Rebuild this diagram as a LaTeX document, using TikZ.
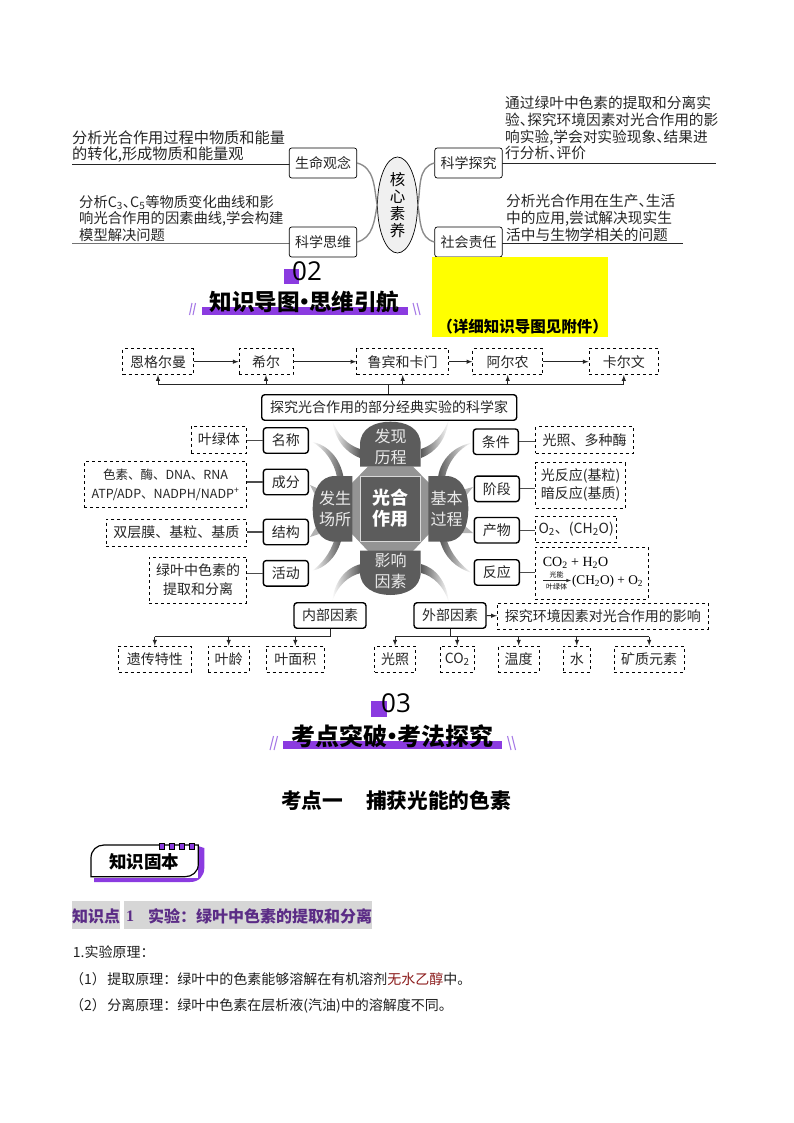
\documentclass[tikz,border=0pt]{standalone}
\usepackage{fontspec}
\setmainfont{Noto Sans CJK SC}
\newfontfamily\timesfont{Liberation Serif}
\newfontfamily\digitfont{Open Sans}
\usepackage{xcolor}
\usetikzlibrary{shapes}
\usetikzlibrary{arrows}
\definecolor{titlepurple}{HTML}{8B3BE0}
\definecolor{slashpurple}{HTML}{A77BE6}
\definecolor{darkpurple}{HTML}{5B2C86}
\definecolor{petalgray}{HTML}{5C5C5C}
\definecolor{stripgray}{HTML}{D6D6D6}
\definecolor{answerred}{HTML}{8B1A1A}
\definecolor{sheetyellow}{HTML}{FFFF00}
\newcommand{\dun}{、\hspace{-0.5em}}
\newcommand{\middot}{\hspace{-0.3em}·\hspace{-0.3em}}
\tikzset{
	fs/.style={font=\fontsize{#1}{18}\selectfont},
	keybox/.style={draw, rounded corners=3pt, line width=1.4pt, minimum height=25.5pt, inner sep=0pt, text=black!85, fs=14},
	dashbox/.style={draw, dashed, line width=0.8pt, minimum height=26pt, inner sep=0pt, text=black!85, fs=14},
	corebox/.style={draw, rounded corners=2.5pt, line width=0.7pt, minimum width=67.5pt, minimum height=30pt, inner sep=0pt, text=black!85, fs=14},
	note/.style={anchor=west, align=left, inner sep=0pt, text=black!85, font=\fontsize{14.7}{16.9}\selectfont},
	petaltext/.style={text=white!92!black, inner sep=0pt, fs=16},
	bodytext/.style={anchor=west, inner sep=0pt, text=black!88, fs=14},
	heading/.style={inner sep=0pt, font=\fontsize{#1}{25}\selectfont\bfseries},
	flow/.style={line width=1pt, black!85},
	flowarrow/.style={flow, -latex},
	tick/.style={line width=1.2pt, black!70},
	corelink/.style={line width=1.4pt, black!45},
	swooshL/.style={left color=white, right color=black!65},
	swooshR/.style={left color=black!65, right color=white},
	slash/.style={line width=1.1pt, slashpurple}
}
\begin{document}
\begin{tikzpicture}[x=1pt, y=-1pt]
	\useasboundingbox (0,0) rectangle (794,1123);

	% core literacy
	\draw[line width=0.7pt, black!85] (72,164) -- (290,164);
	\draw[line width=1.1pt, black!55] (72,243.7) -- (290,243.7);
	\draw[line width=0.7pt, black!85] (502,163) -- (716,163);
	\draw[line width=0.7pt, black!85] (502,243.5) -- (683,243.5);

	\node[note, font=\fontsize{15.2}{16.9}\selectfont] (lifetext) at (72,146.5) {分析光合作用过程中物质和能量\\的转化,形成物质和能量观};
	\node[note, font=\fontsize{14.3}{16.9}\selectfont] (thinktext) at (79,218.5) {分析C\textsubscript{3}\dun C\textsubscript{5}等物质变化曲线和影\\响光合作用的因素曲线,学会构建\\模型解决问题};
	\node[note] (probetext) at (505,128) {通过绿叶中色素的提取和分离实\\验\dun 探究环境因素对光合作用的影\\响实验,学会对实验现象\dun 结果进\\行分析\dun 评价};
	\node[note] (dutytext) at (506,217.5) {分析光合作用在生产\dun 生活\\中的应用,尝试解决现实生\\活中与生物学相关的问题};

	\node[corebox, fill=white] (life) at (323,163) {生命观念};
	\node[corebox, fill=white] (think) at (323,242) {科学思维};
	\node[corebox, fill=white] (probe) at (468.5,163) {科学探究};
	\node[corebox, fill=white] (duty) at (468.5,242) {社会责任};
	\node[draw, ellipse, fill=black!6, line width=0.7pt, minimum width=40pt, minimum height=96pt, inner sep=0pt, align=center, font=\fontsize{15.5}{16.8}\selectfont] (core) at (397.5,205) {核\\心\\素\\养};
	\draw[corelink] (life.east) to[out=-15, in=100] (core.west);
	\draw[corelink] (think.east) to[out=15, in=-100] (core.west);
	\draw[corelink] (probe.west) to[out=195, in=80] (core.east);
	\draw[corelink] (duty.west) to[out=165, in=-80] (core.east);

	% section 02
	\fill[titlepurple] (284,269) rectangle (299,284);
	\node[inner sep=0pt, font=\fontsize{26}{30}\selectfont\digitfont] (numtwo) at (307,271.5) {02};
	\fill[titlepurple] (201.5,307) rectangle (407.5,315);
	\node[heading=22.6] (guide) at (304.5,302) {知识导图\middot 思维引航};
	\draw[slash] (189.5,315) -- (192,303);
	\draw[slash] (193,315) -- (195.5,303);
	\draw[slash] (413,303) -- (416,315);
	\draw[slash] (417,303) -- (420,315);
	\fill[sheetyellow] (432,257) rectangle (608,337);
	\node[inner sep=0pt, font=\fontsize{15.5}{18}\selectfont\bfseries] (attach) at (522.5,327) {（详细知识导图见附件）};

	% swooshes behind the hub
	\shade[swooshL] (360,458) .. controls (345,452) and (335,440) .. (331.7,419) .. controls (338,436) and (348,445) .. (360,449) -- cycle;
	\shade[swooshL] (343.5,477) .. controls (340,458) and (328,445) .. (311.7,441.7) .. controls (325,449) and (334,462) .. (337,477) -- cycle;
	\shade[swooshL] (341,541) .. controls (336,558) and (325,568) .. (311.7,571) .. controls (322,564) and (330,553) .. (334,541) -- cycle;
	\shade[swooshL] (361,573) .. controls (348,576) and (337,586) .. (331.7,603) .. controls (334,582) and (345,568) .. (361,564) -- cycle;
	\shade[swooshR] (421,458) .. controls (436,452) and (446,440) .. (449,419) .. controls (443,436) and (433,445) .. (421,449) -- cycle;
	\shade[swooshR] (438,477) .. controls (441,458) and (455,446) .. (472,442.7) .. controls (458,449) and (448,462) .. (445,477) -- cycle;
	\shade[swooshR] (440,541) .. controls (445,558) and (456,568) .. (472,573) .. controls (460,565) and (451,553) .. (447,541) -- cycle;
	\shade[swooshR] (421,573) .. controls (433,576) and (444,586) .. (449,603) .. controls (447,582) and (436,568) .. (421,564) -- cycle;
	\fill[black!30] (310,485) -- (319,489) -- (316,497) -- cycle;
	\fill[black!30] (310,537) -- (316,527) -- (319,534) -- cycle;
	\fill[black!30] (473,487) -- (462,490) -- (465,497) -- cycle;
	\fill[black!30] (473,533) -- (465,526) -- (462,533) -- cycle;

	% hub
	\fill[black!42] (368,466.5) -- (413,466.5) -- (429,483) -- (429,534) -- (413,551) -- (368,551) -- (352,534) -- (352,483) -- cycle;
	\fill[petalgray] (360,466.7) -- (360,445) .. controls (360,428) and (375,421.7) .. (390.5,421.7) .. controls (406,421.7) and (420.7,428) .. (420.7,445) -- (420.7,466.7) -- cycle;
	\fill[petalgray] (352.3,476) -- (335,476) .. controls (320,476) and (312.7,490) .. (312.7,508.8) .. controls (312.7,528) and (320,541.7) .. (335,541.7) -- (352.3,541.7) -- cycle;
	\fill[petalgray] (428.3,476) -- (446,476) .. controls (461,476) and (468.3,490) .. (468.3,508.8) .. controls (468.3,528) and (461,541.7) .. (446,541.7) -- (428.3,541.7) -- cycle;
	\fill[petalgray] (360,550.7) -- (360,572) .. controls (360,588) and (375,595) .. (390.5,595) .. controls (406,595) and (420.7,588) .. (420.7,572) -- (420.7,550.7) -- cycle;
	\draw[fill=petalgray, draw=white!85!black, line width=0.8pt] (360.7,476) rectangle (420.7,541.7);
	\node[inner sep=0pt, align=center, text=white, font=\fontsize{18}{21}\selectfont\bfseries] (hub) at (390.7,508.5) {光合\\作用};
	\node[petaltext, align=center, font=\fontsize{16}{21}\selectfont] (history) at (390.5,447) {发现\\历程};
	\node[petaltext, align=center, font=\fontsize{16}{20.5}\selectfont] (place) at (335,509) {发生\\场所};
	\node[petaltext, align=center, font=\fontsize{16}{20.5}\selectfont] (process) at (446.7,509) {基本\\过程};
	\node[petaltext, align=center, font=\fontsize{16}{21}\selectfont] (factor) at (390.5,570.5) {影响\\因素};

	% scientists
	\node[dashbox, minimum width=70.6pt] (engelmann) at (158,361.7) {恩格尔曼};
	\node[dashbox, minimum width=54pt] (hill) at (266,361.7) {希尔};
	\node[dashbox, minimum width=92pt] (ruben) at (402.7,361.7) {鲁宾和卡门};
	\node[dashbox, minimum width=70pt] (arnon) at (507.7,361.7) {阿尔农};
	\node[dashbox, minimum width=69.7pt] (calvin) at (623.8,361.7) {卡尔文};
	\node[keybox, fill=white, minimum width=255pt] (classic) at (389.2,407.5) {探究光合作用的部分经典实验的科学家};
	\coordinate (topbus) at (388,384.3);
	\draw[flowarrow] (engelmann) -- (hill);
	\draw[flowarrow] (hill) -- (ruben);
	\draw[flowarrow] (ruben) -- (arnon);
	\draw[flowarrow] (arnon) -- (calvin);
	\draw[flow] (classic.north -| topbus) -- (topbus);
	\draw[flow] (engelmann.south |- topbus) -- (calvin.south |- topbus);
	\draw[flowarrow] (engelmann.south |- topbus) -- (engelmann.south);
	\draw[flowarrow] (hill.south |- topbus) -- (hill.south);
	\draw[flowarrow] (ruben.south |- topbus) -- (ruben.south);
	\draw[flowarrow] (arnon.south |- topbus) -- (arnon.south);
	\draw[flowarrow] (calvin.south |- topbus) -- (calvin.south);

	% left branch
	\node[keybox, fill=white, minimum width=45pt] (name) at (285.8,440.5) {名称};
	\node[keybox, fill=white, minimum width=45pt] (part) at (285.8,482) {成分};
	\node[keybox, fill=white, minimum width=45pt] (frame) at (285.8,532) {结构};
	\node[keybox, fill=white, minimum width=45pt] (work) at (285.8,573.3) {活动};
	\node[dashbox, minimum width=55.7pt, minimum height=27pt] (chloro) at (218.8,439.5) {叶绿体};
	\node[dashbox, minimum width=162.4pt, minimum height=45.6pt, align=center, font=\fontsize{12.5}{19}\selectfont] (pigment) at (165.5,484.5) {色素、酶、DNA、RNA\\ATP/ADP、NADPH/NADP\textsuperscript{+}};
	\node[dashbox, minimum width=140.7pt, minimum height=27pt] (membrane) at (176.3,532.5) {双层膜、基粒、基质};
	\node[dashbox, minimum width=97.4pt, minimum height=46pt, align=center, font=\fontsize{14}{19}\selectfont] (extract) at (198,580) {绿叶中色素的\\提取和分离};
	\draw[tick] (chloro.east |- name) -- (name);
	\draw[tick] (pigment.east |- part) -- (part);
	\draw[tick] (membrane.east |- frame) -- (frame);
	\draw[tick] (extract.east |- work) -- (work);

	% right branch
	\node[keybox, fill=white, minimum width=45pt] (need) at (495.8,441.7) {条件};
	\node[keybox, fill=white, minimum width=45pt] (stage) at (496.8,488.8) {阶段};
	\node[keybox, fill=white, minimum width=45pt] (product) at (496.8,530.2) {产物};
	\node[keybox, fill=white, minimum width=45pt] (react) at (496.8,572.5) {反应};
	\node[dashbox, minimum width=97.6pt, minimum height=26.6pt] (lightenz) at (584.5,440) {光照、多种酶};
	\node[dashbox, minimum width=89.6pt, minimum height=45.3pt, align=center, font=\fontsize{14}{18}\selectfont] (lightdark) at (580.5,485.3) {光反应(基粒)\\暗反应(基质)};
	\node[dashbox, minimum width=81pt, minimum height=26pt] (yield) at (576.2,529) {O\textsubscript{2}、(CH\textsubscript{2}O)};
	\node[dashbox, minimum width=113pt, minimum height=52pt] (formula) at (591.8,573.3) {};
	\node[inner sep=0pt, font=\fontsize{14}{16}\selectfont\timesfont] (reactants) at (575.5,563) {CO\textsubscript{2} + H\textsubscript{2}O};
	\node[inner sep=0pt, font=\fontsize{13.3}{16}\selectfont\timesfont] (products) at (607.5,581) {(CH\textsubscript{2}O) + O\textsubscript{2}};
	\node[inner sep=0pt, fs=7] (lighton) at (556.5,574.5) {光能};
	\node[inner sep=0pt, fs=7] (leafon) at (556.5,586.5) {叶绿体};
	\coordinate (eqstart) at (543,580.5);
	\coordinate (eqend) at (571,580.5);
	\draw[line width=0.6pt, black!85, -latex] (eqstart) -- (eqend);
	\draw[tick] (need) -- (lightenz.west |- need);
	\draw[tick] (stage) -- (lightdark.west |- stage);
	\draw[tick] (product) -- (yield.west |- product);
	\draw[tick] (react) -- (formula.west |- react);

	% factors
	\node[keybox, fill=white, minimum width=72pt] (inner) at (330,615.5) {内部因素};
	\node[keybox, fill=white, minimum width=72pt] (outer) at (450,615.5) {外部因素};
	\node[dashbox, minimum width=211pt] (explore) at (602.8,616.3) {探究环境因素对光合作用的影响};
	\node[dashbox, minimum width=72.3pt] (heredity) at (154.8,659) {遗传特性};
	\node[dashbox, minimum width=41.3pt] (leafage) at (228.7,659) {叶龄};
	\node[dashbox, minimum width=57.3pt] (leafarea) at (295.3,659) {叶面积};
	\node[dashbox, minimum width=40.6pt] (light) at (395,659) {光照};
	\node[dashbox, minimum width=34.3pt] (carbon) at (457.2,659) {CO\textsubscript{2}};
	\node[dashbox, minimum width=40.7pt] (warm) at (518.7,659) {温度};
	\node[dashbox, minimum width=27pt] (water) at (576.8,659) {水};
	\node[dashbox, minimum width=69.7pt] (mineral) at (649.2,659) {矿质元素};
	\coordinate (lowbus) at (330,636.7);
	\draw[flowarrow] (outer) -- (explore);
	\draw[flow] (inner.south) -- (lowbus);
	\draw[flow] (outer.south) -- (outer.south |- lowbus);
	\draw[flow] (heredity.north |- lowbus) -- (inner.south |- lowbus);
	\draw[flow] (light.north |- lowbus) -- (mineral.north |- lowbus);
	\draw[flowarrow] (heredity.north |- lowbus) -- (heredity.north);
	\draw[flowarrow] (leafage.north |- lowbus) -- (leafage.north);
	\draw[flowarrow] (leafarea.north |- lowbus) -- (leafarea.north);
	\draw[flowarrow] (light.north |- lowbus) -- (light.north);
	\draw[flowarrow] (carbon.north |- lowbus) -- (carbon.north);
	\draw[flowarrow] (warm.north |- lowbus) -- (warm.north);
	\draw[flowarrow] (water.north |- lowbus) -- (water.north);
	\draw[flowarrow] (mineral.north |- lowbus) -- (mineral.north);

	% section 03
	\fill[titlepurple] (371,700.7) rectangle (386.7,716.7);
	\node[inner sep=0pt, font=\fontsize{26}{30}\selectfont\digitfont] (numthree) at (396,703) {03};
	\fill[titlepurple] (283.3,741) rectangle (501.7,749.3);
	\node[heading=24] (exam) at (392.5,736) {考点突破\middot 考法探究};
	\draw[slash] (270,750) -- (273.5,736);
	\draw[slash] (274,750) -- (277.5,736);
	\draw[slash] (507.5,736) -- (511,750);
	\draw[slash] (512,736) -- (515.5,750);
	\node[inner sep=0pt, font=\fontsize{20.7}{24}\selectfont\bfseries] (pointone) at (396,800.7) {考点一\hspace{23pt}捕获光能的色素};

	% badge
	\fill[titlepurple] (94,878) -- (94,882) -- (190,882) .. controls (199,882) and (204.3,876) .. (204.3,868) -- (204.3,848) -- (198,846) -- (198,878) -- cycle;
	\draw[fill=white, line width=1.2pt] (91,876.7) -- (91,858) .. controls (91,850) and (97,845) .. (104,845) -- (198.3,845) -- (198.3,864) .. controls (198.3,872) and (192,876.7) .. (185,876.7) -- cycle;
	\draw[fill=titlepurple, line width=0.7pt] (159.5,843.5) rectangle (164,849);
	\draw[fill=titlepurple, line width=0.7pt] (169.5,843.5) rectangle (174,849);
	\draw[fill=titlepurple, line width=0.7pt] (179.5,843.5) rectangle (184,849);
	\draw[fill=titlepurple, line width=0.7pt] (189.5,843.5) rectangle (194,849);
	\node[inner sep=0pt, font=\fontsize{17.5}{20}\selectfont\bfseries] (solid) at (144,862.3) {知识固本};

	% knowledge point
	\fill[stripgray] (72,901) rectangle (120,928.7);
	\fill[stripgray] (124,901) rectangle (371.7,928.7);
	\node[anchor=west, inner sep=0pt, text=darkpurple, font=\fontsize{16}{19}\selectfont\bfseries] (kplabel) at (72,916) {知识点};
	\node[anchor=west, inner sep=0pt, text=darkpurple, font=\fontsize{16}{19}\selectfont\bfseries\timesfont] (kpnum) at (126,916) {1};
	\node[anchor=west, inner sep=0pt, text=darkpurple, font=\fontsize{16}{19}\selectfont\bfseries] (kptitle) at (148,916) {实验：绿叶中色素的提取和分离};
	\node[bodytext] (lineone) at (72.7,952.3) {1.实验原理：};
	\node[bodytext] (linetwo) at (70,979) {（1）\hspace{1.5pt}提取原理：绿叶中的色素能够溶解在有机溶剂{\color{answerred}无水乙醇}中。};
	\node[bodytext] (linethree) at (70,1006) {（2）\hspace{1.5pt}分离原理：绿叶中色素在层析液(汽油)中的溶解度不同。};
\end{tikzpicture}
\end{document}
